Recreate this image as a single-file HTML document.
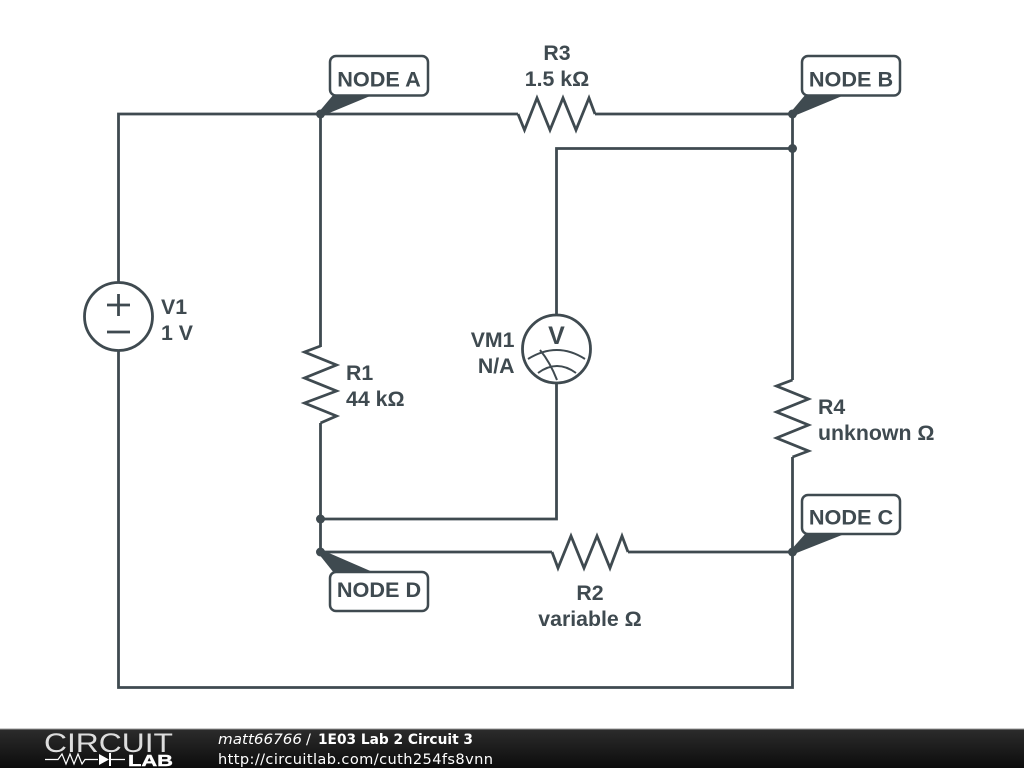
<!DOCTYPE html>
<html>
<head>
<meta charset="utf-8">
<style>
html,body{margin:0;padding:0;background:#fff;width:1024px;height:768px;overflow:hidden}
svg{display:block}
.l{font-family:"Liberation Sans",Arial,sans-serif;font-weight:bold;font-size:21.3px;fill:#3f4a50}
.n{font-family:"Liberation Sans",Arial,sans-serif;font-weight:bold;font-size:21.7px;fill:#3f4a50}
.f{font-family:"DejaVu Sans",sans-serif;font-size:14.6px;fill:#fff}
</style>
</head>
<body>
<svg width="1024" height="768" viewBox="0 0 1024 768" xmlns="http://www.w3.org/2000/svg">
<defs>
<linearGradient id="g" x1="0" y1="0" x2="0" y2="1">
<stop offset="0" stop-color="#2c2c2c"/><stop offset="1" stop-color="#0c0c0c"/>
</linearGradient>
</defs>
<rect width="1024" height="768" fill="#fff"/>
<g fill="none" stroke="#3f4a50" stroke-width="2.8" stroke-linejoin="miter">
<!-- wires -->
<path d="M118.5 282V114H518"/>
<path d="M595 114H792.5V380"/>
<path d="M792.5 457V687.5H118.5V351"/>
<path d="M320.5 114V347"/>
<path d="M320.5 423V552H552"/>
<path d="M628 552H792.5"/>
<path d="M792.5 148.500H556.500V315"/>
<path d="M556.500 383V519H320.500"/>
<!-- R3 -->
<path d="M518 114L524.500 130L537 98L550 130L563 98L576 130L589 98L595 114"/>
<!-- R2 -->
<path d="M552 552L558 568L571 536L584 568L597 536L610 568L622 536L628 552"/>
<!-- R1 -->
<path d="M320.500 346L304.500 352L336.500 365L304.500 378L336.500 391L304.500 403L336.500 416L320.500 423"/>
<!-- R4 -->
<path d="M792.500 380L776.500 386L808.500 399L776.500 412L808.500 425L776.500 438L808.500 451L792.500 457"/>
<!-- V1 -->
<circle cx="118.500" cy="316.500" r="34"/>
<path d="M107 305H130M118.500 294V316M107 332H130"/>
<!-- VM1 -->
<circle cx="556.500" cy="349" r="34"/>
<path stroke-width="2" d="M528 359Q557 341 585 359M538 373Q557 359 576 373M540 350Q550 362 557 380"/>
</g>
<text x="556.500" y="344" text-anchor="middle" font-family="'Liberation Sans',sans-serif" font-weight="bold" font-size="25" fill="#3f4a50">V</text>
<!-- callout tails -->
<g fill="#3f4a50">
<path d="M318 113L334 94H375L322 116Z"/>
<path d="M790 113L806 94H847L794 116Z"/>
<path d="M790 551L806 533H847L794 554Z"/>
<path d="M318 553L334 573H375L322 550Z"/>
<circle cx="320.500" cy="114" r="4.500"/>
<circle cx="792.500" cy="114" r="4.500"/>
<circle cx="792.500" cy="148.500" r="4.500"/>
<circle cx="320.500" cy="519" r="4.500"/>
<circle cx="320.500" cy="552" r="4.500"/>
<circle cx="792.500" cy="552" r="4.500"/>
</g>
<g fill="#fff" stroke="#3f4a50" stroke-width="2.500">
<rect x="330" y="56" width="98" height="39.500" rx="6"/>
<rect x="802" y="56" width="98" height="39.500" rx="6"/>
<rect x="802" y="495" width="98" height="39" rx="6"/>
<rect x="330" y="572" width="98" height="39" rx="6"/>
</g>
<text class="n" x="379" y="86.500" text-anchor="middle">NODE A</text>
<text class="n" x="851" y="86.500" text-anchor="middle">NODE B</text>
<text class="n" x="851" y="524.500" text-anchor="middle">NODE C</text>
<text class="n" x="379" y="597" text-anchor="middle">NODE D</text>
<text class="l" x="557" y="60" text-anchor="middle">R3</text>
<text class="l" x="557" y="86" text-anchor="middle">1.5 kΩ</text>
<text class="l" x="161" y="314">V1</text>
<text class="l" x="161" y="340">1 V</text>
<text class="l" x="346" y="380">R1</text>
<text class="l" x="346" y="406">44 kΩ</text>
<text class="l" x="514.500" y="347" text-anchor="end">VM1</text>
<text class="l" x="514.500" y="373" text-anchor="end">N/A</text>
<text class="l" x="818" y="414">R4</text>
<text class="l" x="818" y="440">unknown Ω</text>
<text class="l" x="590" y="600" text-anchor="middle">R2</text>
<text class="l" x="590" y="626" text-anchor="middle">variable Ω</text>
<!-- footer -->
<rect x="0" y="729" width="1024" height="39" fill="url(#g)"/>
<rect x="0" y="728.500" width="1024" height="1" fill="#999"/>
<text x="44" y="752" font-family="'Liberation Sans',sans-serif" font-size="27" fill="#ddd" textLength="129" lengthAdjust="spacingAndGlyphs">CIRCUIT</text>
<text x="128" y="766" font-family="'Liberation Sans',sans-serif" font-weight="bold" font-size="16" fill="#fff" stroke="#fff" stroke-width="0.400" textLength="45" lengthAdjust="spacingAndGlyphs">LAB</text>
<path d="M45 759.500H58L62 754L66 764L70 754L74 764L78 754L82 764L85 759.500H98M110 759.500H125" fill="none" stroke="#fff" stroke-width="1.200"/>
<path d="M99 754L109 759.500L99 765Z" fill="#fff"/>
<path d="M110 753V766" stroke="#fff" stroke-width="2"/>
<text class="f" x="218" y="744" font-style="italic" textLength="84" lengthAdjust="spacingAndGlyphs">matt66766</text>
<text class="f" x="306" y="744">/</text>
<text class="f" x="318" y="744" font-weight="bold" textLength="155" lengthAdjust="spacingAndGlyphs">1E03 Lab 2 Circuit 3</text>
<text class="f" x="218" y="764" textLength="275">http://circuitlab.com/cuth254fs8vnn</text>
</svg>
</body>
</html>
